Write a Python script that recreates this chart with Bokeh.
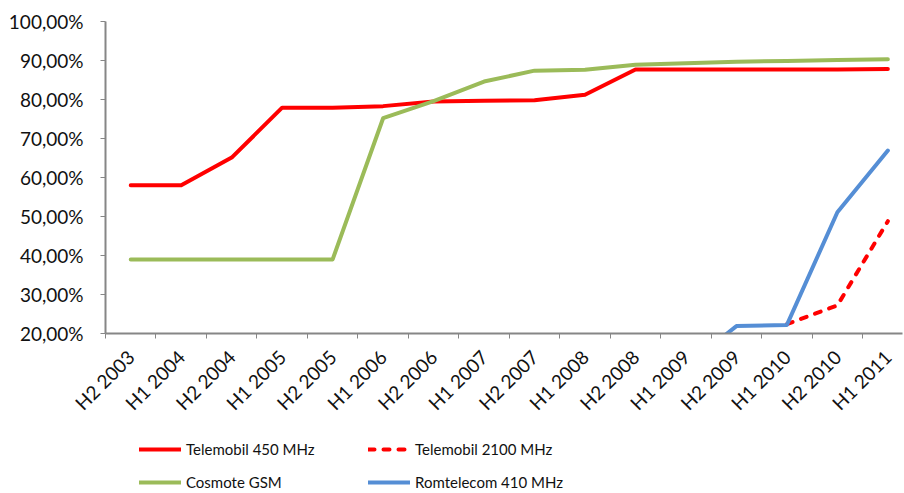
import math
from bokeh.plotting import figure
from bokeh.layouts import column
from bokeh.models import FixedTicker, CustomJSTickFormatter, Legend, LegendItem, Range1d
from bokeh.embed import file_html
from bokeh.resources import INLINE

categories = ["H2 2003", "H1 2004", "H2 2004", "H1 2005", "H2 2005", "H1 2006",
              "H2 2006", "H1 2007", "H2 2007", "H1 2008", "H2 2008", "H1 2009",
              "H2 2009", "H1 2010", "H2 2010", "H1 2011"]
nan = float("nan")
telemobil_450 = [58.0, 58.0, 65.1, 77.9, 77.9, 78.3, 79.5, 79.7, 79.8, 81.2,
                 87.7, 87.7, 87.7, 87.7, 87.7, 87.8]
telemobil_2100 = [nan] * 13 + [22.4, 27.2, 48.8]
cosmote_gsm = [39.0, 39.0, 39.0, 39.0, 39.0, 75.2, 79.6, 84.6, 87.4, 87.6,
               88.9, 89.3, 89.7, 89.9, 90.1, 90.3]
romtelecom_410 = [nan] * 11 + [11.6, 21.9, 22.2, 51.1, 66.9]
y_ticks = [20, 30, 40, 50, 60, 70, 80, 90, 100]
series_names = ["Telemobil 450 MHz", "Telemobil 2100 MHz", "Cosmote GSM", "Romtelecom 410 MHz"]

FONT = "Lato"
FS = "19px"
RED, GREEN, BLUE = "#FF0000", "#9BBB59", "#558ED5"
x = list(range(len(categories)))

p = figure(width=903, height=425, output_backend="svg", toolbar_location=None,
           x_range=Range1d(-0.5, 15.29), y_range=Range1d(20, 100),
           min_border_left=105, min_border_right=1, min_border_top=21, min_border_bottom=92)
p.outline_line_color = None
p.xgrid.visible = False
p.ygrid.visible = False

styles = [dict(line_color=RED), dict(line_color=RED, line_dash="6 9"),
          dict(line_color=GREEN), dict(line_color=BLUE)]
for ys, st in zip([telemobil_450, telemobil_2100, cosmote_gsm, romtelecom_410], styles):
    p.line(x, ys, line_width=4, line_join="round", line_cap="round", **st)

ax = p.xaxis[0]
ax.ticker = FixedTicker(ticks=x, minor_ticks=[i - 0.5 for i in range(len(categories) + 1)])
ax.major_label_overrides = {i: c for i, c in enumerate(categories)}
ax.major_label_orientation = math.pi / 4
ax.major_tick_out = 0
ax.major_tick_in = 0
ax.minor_tick_out = 5
ax.minor_tick_in = 0
ax.minor_tick_line_color = "#868686"
ax.axis_line_color = "#868686"
ax.axis_line_width = 2
ax.minor_tick_line_width = 1
ax.major_label_text_font = FONT
ax.major_label_text_font_size = FS
ax.major_label_text_color = "#111111"
ax.major_label_standoff = 15

ay = p.yaxis[0]
ay.ticker = FixedTicker(ticks=y_ticks)
ay.formatter = CustomJSTickFormatter(code="return tick.toFixed(2).replace('.', ',') + '%';")
ay.major_tick_out = 5
ay.major_tick_in = 0
ay.minor_tick_out = 0
ay.minor_tick_in = 0
ay.major_tick_line_color = "#868686"
ay.axis_line_color = "#868686"
ay.axis_line_width = 2
ay.major_label_text_font = FONT
ay.major_label_text_font_size = FS
ay.major_label_text_color = "#111111"
ay.major_label_standoff = 17

# legend figure
lg = figure(width=903, height=67, output_backend="svg", toolbar_location=None,
            x_axis_location=None, y_axis_location=None,
            x_range=Range1d(0, 1), y_range=Range1d(0, 1),
            min_border_left=0, min_border_right=0, min_border_top=0, min_border_bottom=0)
lg.outline_line_color = None
lg.xgrid.visible = False
lg.ygrid.visible = False
renderers = {}
for name, st in zip(series_names, styles):
    renderers[name] = lg.line([nan], [nan], line_width=4, line_cap="round", **st)

order = ["Telemobil 450 MHz", "Cosmote GSM", "Telemobil 2100 MHz", "Romtelecom 410 MHz"]
items = [LegendItem(label=n, renderers=[renderers[n]]) for n in order]

legend = Legend(items=items, ncols=2, location=(34, 0), glyph_width=42, glyph_height=20,
                label_height=20, label_width=169, spacing=13, padding=0, margin=0,
                border_line_alpha=0, background_fill_alpha=0,
                label_text_font=FONT, label_text_font_size="15px",
                label_text_color="#111111", label_standoff=5)
lg.add_layout(legend, "center")

layout = column(p, lg, spacing=0)
open("out.html", "w").write(file_html(layout, INLINE))
